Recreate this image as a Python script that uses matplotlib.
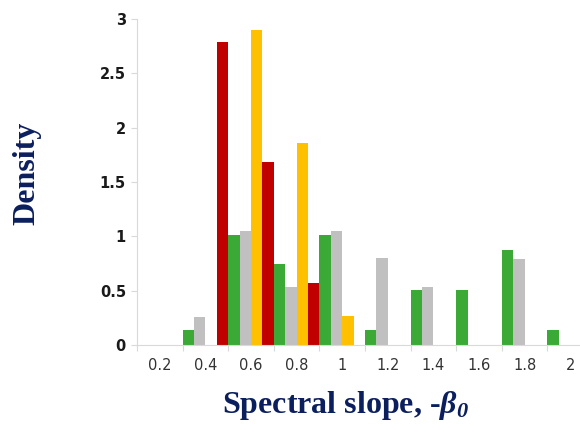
import matplotlib
matplotlib.use("Agg")
import matplotlib.pyplot as plt
import numpy as np

# Histogram bin labels (spectral slope) and densities for each group
bins = ["0.2", "0.4", "0.6", "0.8", "1", "1.2", "1.4", "1.6", "1.8", "2"]
green = [0, 0.14, 1.01, 0.75, 1.01, 0.14, 0.51, 0.51, 0.87, 0.14]
gray = [0, 0.26, 1.05, 0.53, 1.05, 0.80, 0.53, 0, 0.79, 0]
yellow = [0, 0, 2.90, 1.86, 0.27, 0, 0, 0, 0, 0]
red = [0, 2.79, 1.68, 0.57, 0, 0, 0, 0, 0, 0]
yticks = [0, 0.5, 1, 1.5, 2, 2.5, 3]
ytick_labels = ["0", "0.5", "1", "1.5", "2", "2.5", "3"]

series = [(green, "#3aa935"), (gray, "#c0c0c0"), (yellow, "#ffc000"), (red, "#c00000")]

plt.rcParams["mathtext.fontset"] = "custom"
plt.rcParams["mathtext.rm"] = "Liberation Serif:bold:italic"
plt.rcParams["mathtext.it"] = "Liberation Serif:bold:italic"
plt.rcParams["mathtext.bf"] = "Liberation Serif:bold:italic"

fig = plt.figure(figsize=(5.8, 4.26), dpi=100)
ax = fig.add_axes([137 / 580, 1 - 345 / 426, 456 / 580, 326 / 426])

x = np.arange(len(bins))
w = 0.25
for k, (vals, col) in enumerate(series):
    ax.bar(x - 0.5 + w * (k + 0.5), vals, width=w, color=col, linewidth=0)

ax.set_xlim(-0.5, len(bins) - 0.5)
ax.set_ylim(0, 3.0)
ax.set_xticks(x)
ax.set_xticklabels(bins)
ax.set_xticks(np.arange(-0.5, len(bins), 1), minor=True)
ax.set_yticks(yticks)
ax.set_yticklabels(ytick_labels)

for s in ["top", "right"]:
    ax.spines[s].set_visible(False)
for s in ["left", "bottom"]:
    ax.spines[s].set_color("#d9d9d9")
    ax.spines[s].set_linewidth(0.8)

ax.tick_params(axis="x", which="major", length=0, pad=9, labelsize=10.5, labelcolor="#333333")
ax.tick_params(axis="x", which="minor", length=4, color="#d9d9d9", width=0.8)
ax.tick_params(axis="y", length=4, color="#d9d9d9", width=0.8, pad=4,
               labelsize=10.5, labelcolor="#1a1a1a")
for lbl in ax.get_yticklabels():
    lbl.set_fontweight("bold")

navy = "#0b1f5e"
fig.text(345 / 580, 1 - 406 / 426, r"Spectral slope, -$\beta_0$",
         ha="center", va="center", fontsize=23, color=navy,
         family="Liberation Serif", fontweight="bold")
fig.text(27 / 580, 1 - 173 / 426, "Density", rotation=90,
         ha="center", va="center", fontsize=23, color=navy,
         family="Liberation Serif", fontweight="bold")

fig.savefig("out.png", dpi=100)
